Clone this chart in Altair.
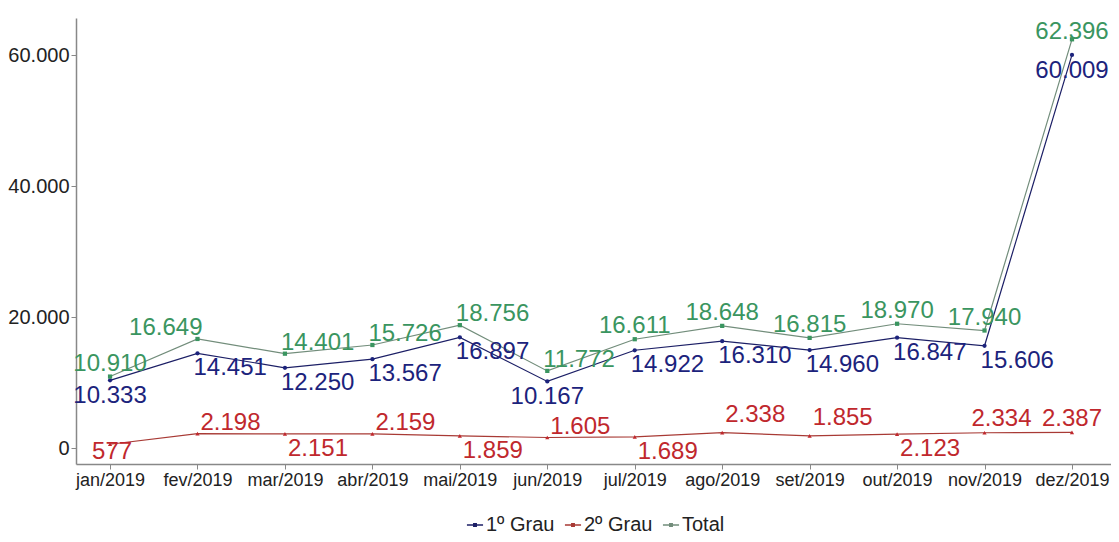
import altair as alt
import pandas as pd

months = ["jan/2019", "fev/2019", "mar/2019", "abr/2019", "mai/2019", "jun/2019",
          "jul/2019", "ago/2019", "set/2019", "out/2019", "nov/2019", "dez/2019"]
series_names = ["1º Grau", "2º Grau", "Total"]
grau1 = [10333, 14451, 12250, 13567, 16897, 10167, 14922, 16310, 14960, 16847, 15606, 60009]
grau2 = [577, 2198, 2151, 2159, 1859, 1605, 1689, 2338, 1855, 2123, 2334, 2387]
total = [10910, 16649, 14401, 15726, 18756, 11772, 16611, 18648, 16815, 18970, 17940, 62396]

# label placement keys per point (a=above, b=below, r=right-of-point, l=left-of-point)
pos1 = ["b", "br", "br", "br", "br", "b", "br", "br", "br", "br", "br", "b"]
pos2 = ["bs", "ar", "br", "ar", "br", "ar", "br", "ar+", "ar+", "br", "ac", "a"]
posT = ["a", "al", "ar", "ar", "ar", "ar", "a", "a", "a", "a", "a", "as"]

placements = {
    "a": dict(align="center", dx=0, dy=-13),
    "ac": dict(align="center", dx=17, dy=-14),
    "as": dict(align="center", dx=0, dy=-7),
    "b": dict(align="center", dx=0, dy=16),
    "bs": dict(align="center", dx=2, dy=8),
    "ar": dict(align="left", dx=0, dy=-11),
    "ar+": dict(align="left", dx=0, dy=-18),
    "br": dict(align="left", dx=0, dy=15),
    "al": dict(align="right", dx=5, dy=-11),
}
series_dx = {"1º Grau": -4, "2º Grau": 3, "Total": -4}

colors = ["#1c237c", "#c0282d", "#3a9560"]
line_colors = ["#1c1f66", "#a83a35", "#728d7b"]

rows = []
for name, vals, pos in zip(series_names, [grau1, grau2, total], [pos1, pos2, posT]):
    for m, v, p in zip(months, vals, pos):
        rows.append({"mes": m, "serie": name, "valor": v, "pos": p})
df = pd.DataFrame(rows)

FONT = "Liberation Sans"

x = alt.X("mes:N", sort=months, title=None,
          scale=alt.Scale(type="point", padding=0.4177, align=0.466),
          axis=alt.Axis(labelAngle=0, labelFontSize=18, labelColor="#222222",
                        labelFont=FONT, labelOverlap=False, labelPadding=2,
                        tickSize=5, tickColor="#888888", domainColor="#888888",
                        domainWidth=1.5, grid=False))
y = alt.Y("valor:Q", title=None,
          scale=alt.Scale(domain=[-2440, 65650], nice=False, zero=False),
          axis=alt.Axis(values=[0, 20000, 40000, 60000], labelFontSize=20,
                        labelColor="#222222", labelFont=FONT, labelPadding=2,
                        tickSize=5, tickColor="#888888", domainColor="#888888",
                        domainWidth=1.5, grid=False,
                        labelExpr="replace(format(datum.value, ',d'), ',', '.')"))

base = alt.Chart(df)

lines = base.mark_line(strokeWidth=1.2).encode(
    x=x, y=y,
    color=alt.Color("serie:N", scale=alt.Scale(domain=series_names, range=line_colors),
                    legend=alt.Legend(title=None, orient="none", legendX=389, legendY=497,
                                      direction="horizontal",
                                      labelFontSize=20, labelFont=FONT, labelColor="#222222",
                                      symbolType="M-1,0L1,0M-0.15,-0.15L0.15,-0.15L0.15,0.15L-0.15,0.15Z",
                                      symbolSize=260, symbolStrokeWidth=1.5,
                                      columnPadding=6, labelOffset=1)),
    detail="serie:N",
)

points = base.mark_point(filled=True, size=18, opacity=1).encode(
    x=x, y=y,
    color=alt.Color("serie:N", scale=alt.Scale(domain=series_names, range=colors), legend=None),
    shape=alt.Shape("serie:N", scale=alt.Scale(domain=series_names,
                                               range=["circle", "triangle-up", "square"]),
                    legend=None),
)

texts = []
for sname in series_names:
    for key, opts in placements.items():
        o = dict(opts)
        if o["align"] == "left":
            o["dx"] = o["dx"] + series_dx[sname]
        t = base.transform_filter(
            (alt.datum.pos == key) & (alt.datum.serie == sname)
        ).transform_calculate(
            lab="replace(format(datum.valor, ',d'), ',', '.')"
        ).mark_text(font=FONT, fontSize=24, baseline="middle", **o).encode(
            x=x, y=y, text="lab:N",
            color=alt.Color("serie:N", scale=alt.Scale(domain=series_names, range=colors), legend=None),
        )
        texts.append(t)

chart = alt.layer(lines, points, *texts).resolve_scale(color="independent").properties(
    width=1035, height=446,
    autosize=alt.AutoSizeParams(type="none"),
    padding={"left": 68, "top": 10, "right": 0, "bottom": 70},
).configure_view(stroke=None)

chart.save("out.html", embed_options={"renderer": "svg", "actions": False})
